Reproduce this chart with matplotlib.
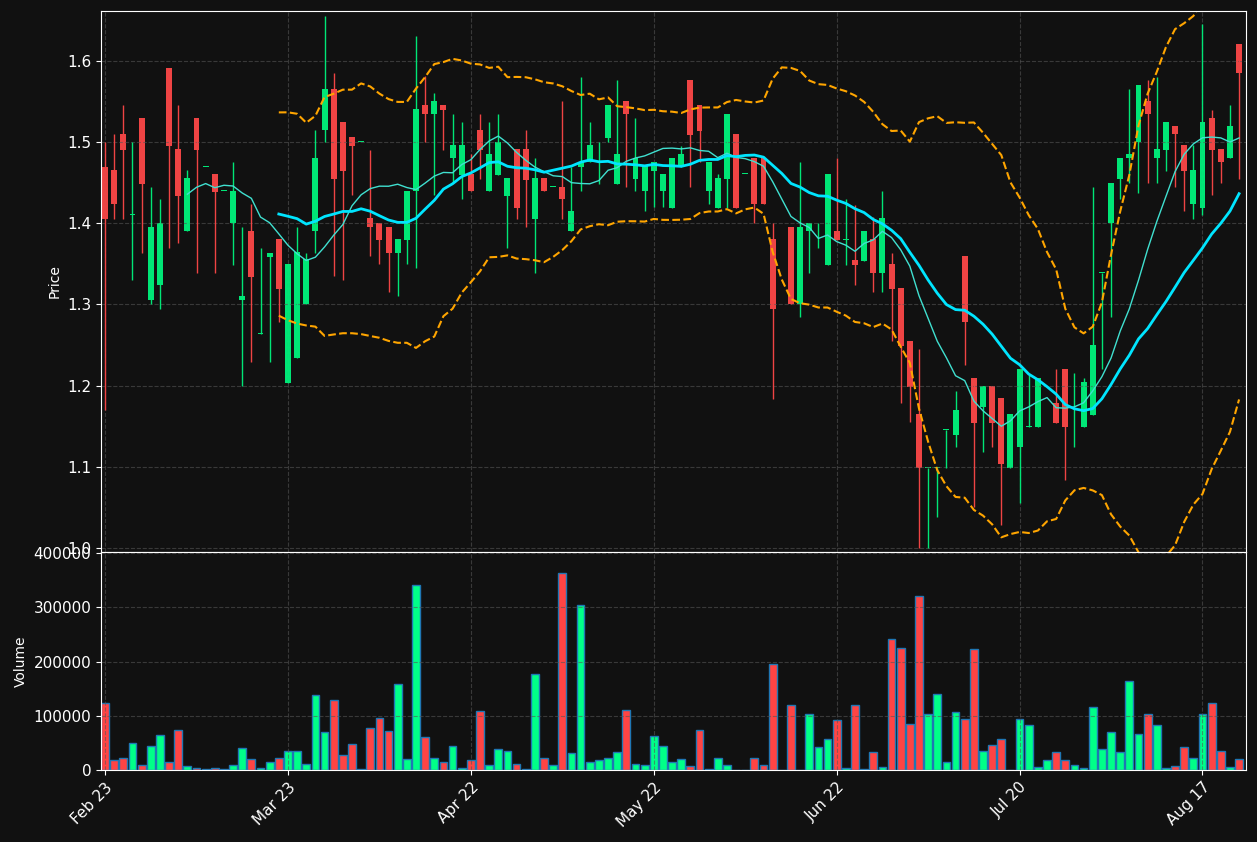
import numpy as np
import pandas as pd
import matplotlib
matplotlib.use("Agg")
import matplotlib.pyplot as plt

# OHLC (index 74 is an empty day)
opens = [1.470, 1.466, 1.510, 1.410, 1.530, 1.305, 1.324, 1.591, 1.491, 1.390,
         1.530, 1.470, 1.461, 1.440, 1.400, 1.305, 1.391, 1.264, 1.359, 1.381,
         1.203, 1.234, 1.300, 1.390, 1.515, 1.566, 1.525, 1.506, 1.500, 1.406,
         1.400, 1.396, 1.364, 1.380, 1.440, 1.546, 1.535, 1.546, 1.480, 1.460,
         1.461, 1.515, 1.440, 1.460, 1.434, 1.491, 1.491, 1.405, 1.456, 1.445,
         1.445, 1.390, 1.470, 1.475, 1.496, 1.505, 1.449, 1.551, 1.455, 1.440,
         1.465, 1.440, 1.419, 1.470, 1.576, 1.546, 1.440, 1.419, 1.455, 1.510,
         1.461, 1.481, 1.481, 1.381, np.nan, 1.396, 1.300, 1.390, 1.400, 1.349,
         1.391, 1.380, 1.355, 1.354, 1.381, 1.339, 1.350, 1.320, 1.255, 1.165,
         1.099, 1.099, 1.145, 1.139, 1.360, 1.210, 1.174, 1.199, 1.185, 1.098,
         1.125, 1.149, 1.149, 1.220, 1.179, 1.220, 1.215, 1.149, 1.164, 1.339,
         1.400, 1.455, 1.480, 1.500, 1.551, 1.480, 1.490, 1.520, 1.496, 1.424,
         1.419, 1.530, 1.491, 1.480, 1.621]
highs = [1.500, 1.510, 1.546, 1.500, 1.530, 1.445, 1.430, 1.591, 1.546, 1.466,
         1.530, 1.470, 1.461, 1.440, 1.476, 1.395, 1.424, 1.369, 1.364, 1.381,
         1.350, 1.395, 1.364, 1.515, 1.656, 1.585, 1.525, 1.506, 1.500, 1.490,
         1.400, 1.396, 1.381, 1.440, 1.631, 1.581, 1.561, 1.546, 1.535, 1.525,
         1.485, 1.535, 1.525, 1.535, 1.456, 1.491, 1.515, 1.480, 1.456, 1.445,
         1.551, 1.470, 1.580, 1.525, 1.500, 1.546, 1.576, 1.551, 1.530, 1.471,
         1.476, 1.461, 1.480, 1.495, 1.576, 1.546, 1.476, 1.461, 1.535, 1.510,
         1.461, 1.481, 1.481, 1.400, np.nan, 1.396, 1.476, 1.400, 1.400, 1.461,
         1.480, 1.430, 1.422, 1.391, 1.408, 1.440, 1.364, 1.320, 1.255, 1.245,
         1.099, 1.099, 1.145, 1.194, 1.360, 1.210, 1.199, 1.199, 1.185, 1.165,
         1.220, 1.213, 1.210, 1.220, 1.220, 1.220, 1.215, 1.210, 1.445, 1.339,
         1.450, 1.481, 1.565, 1.571, 1.576, 1.580, 1.525, 1.520, 1.496, 1.496,
         1.646, 1.540, 1.491, 1.546, 1.621]
lows = [1.170, 1.405, 1.405, 1.330, 1.364, 1.300, 1.295, 1.369, 1.376, 1.390,
        1.339, 1.470, 1.339, 1.440, 1.349, 1.199, 1.229, 1.264, 1.229, 1.279,
        1.203, 1.234, 1.300, 1.364, 1.500, 1.335, 1.330, 1.435, 1.500, 1.360,
        1.350, 1.315, 1.310, 1.350, 1.345, 1.500, 1.435, 1.490, 1.451, 1.430,
        1.440, 1.455, 1.440, 1.460, 1.369, 1.405, 1.395, 1.339, 1.440, 1.445,
        1.405, 1.390, 1.440, 1.475, 1.449, 1.500, 1.449, 1.445, 1.440, 1.415,
        1.420, 1.420, 1.419, 1.470, 1.445, 1.476, 1.424, 1.419, 1.419, 1.419,
        1.461, 1.400, 1.424, 1.184, np.nan, 1.300, 1.284, 1.339, 1.369, 1.349,
        1.380, 1.349, 1.324, 1.354, 1.315, 1.315, 1.255, 1.179, 1.155, 1.000,
        1.000, 1.038, 1.099, 1.125, 1.225, 1.051, 1.118, 1.125, 1.028, 1.098,
        1.055, 1.149, 1.149, 1.220, 1.154, 1.084, 1.125, 1.149, 1.164, 1.220,
        1.284, 1.430, 1.450, 1.437, 1.450, 1.450, 1.465, 1.445, 1.415, 1.405,
        1.410, 1.435, 1.450, 1.480, 1.455]
closes = [1.405, 1.424, 1.490, 1.410, 1.449, 1.396, 1.400, 1.495, 1.434, 1.456,
          1.490, 1.470, 1.439, 1.440, 1.440, 1.310, 1.334, 1.264, 1.364, 1.319,
          1.350, 1.365, 1.356, 1.481, 1.566, 1.455, 1.465, 1.495, 1.500, 1.395,
          1.380, 1.364, 1.381, 1.440, 1.541, 1.535, 1.551, 1.540, 1.496, 1.496,
          1.440, 1.490, 1.486, 1.500, 1.456, 1.419, 1.454, 1.456, 1.440, 1.445,
          1.430, 1.415, 1.476, 1.496, 1.496, 1.546, 1.486, 1.535, 1.480, 1.471,
          1.476, 1.461, 1.480, 1.486, 1.509, 1.514, 1.476, 1.456, 1.535, 1.419,
          1.461, 1.424, 1.424, 1.295, np.nan, 1.300, 1.396, 1.400, 1.400, 1.461,
          1.380, 1.380, 1.349, 1.391, 1.339, 1.406, 1.319, 1.249, 1.198, 1.098,
          1.099, 1.099, 1.145, 1.170, 1.279, 1.154, 1.199, 1.154, 1.103, 1.165,
          1.220, 1.149, 1.210, 1.220, 1.154, 1.149, 1.215, 1.204, 1.250, 1.339,
          1.450, 1.481, 1.485, 1.571, 1.535, 1.491, 1.525, 1.510, 1.465, 1.466,
          1.525, 1.490, 1.475, 1.520, 1.585]
volumes = [123000, 18000, 23000, 49000, 10000, 44000, 64000, 14000, 73000, 7000,
           4000, 1000, 4000, 1000, 10000, 40000, 20000, 3000, 14000, 22000,
           35000, 35000, 12000, 138000, 70000, 129000, 27000, 48000, 1000, 77000,
           96000, 72000, 159000, 20000, 342000, 60000, 22000, 14000, 44000, 3000,
           18000, 109000, 10000, 38000, 35000, 12000, 1000, 177000, 22000, 10000,
           364000, 31000, 305000, 14000, 18000, 23000, 33000, 110000, 12000, 9000,
           62000, 44000, 14000, 20000, 7000, 73000, 1000, 23000, 9000, 0,
           0, 22000, 9000, 196000, 0, 120000, 0, 103000, 42000, 57000,
           92000, 3000, 120000, 1000, 33000, 5000, 242000, 225000, 85000, 320000,
           103000, 140000, 14000, 107000, 94000, 223000, 35000, 46000, 57000, 0,
           94000, 83000, 5000, 18000, 33000, 18000, 9000, 3000, 116000, 38000,
           70000, 33000, 164000, 66000, 103000, 83000, 3000, 7000, 42000, 22000,
           103000, 123000, 35000, 5000, 20000]
tick_idx = [0, 20, 40, 60, 80, 100, 120]
tick_labels = ["Feb 23", "Mar 23", "Apr 22", "May 22", "Jun 22", "Jul 20", "Aug 17"]

df = pd.DataFrame({"open": opens, "high": highs, "low": lows, "close": closes, "volume": volumes})
c = df["close"].ffill()
ma10 = c.rolling(10).mean()
ma20 = c.rolling(20).mean()
sd20 = c.rolling(20).std(ddof=0)
upper = ma20 + 2 * sd20
lower = ma20 - 2 * sd20

BG = "#111111"
UP = "#00e676"
DOWN = "#ef4444"

fig = plt.figure(figsize=(12.57, 8.42), dpi=100, facecolor=BG)
ax = fig.add_axes([0.0803, 0.3444, 0.9109, 0.6425], facecolor=BG)
axv = fig.add_axes([0.0803, 0.0855, 0.9109, 0.2589], facecolor=BG, sharex=ax)

x = np.arange(len(df))
for i, r in df.iterrows():
    if np.isnan(r["open"]):
        continue
    col = UP if r["close"] >= r["open"] else DOWN
    ax.vlines(i, r["low"], r["high"], color=col, linewidth=1)
    lo = min(r["open"], r["close"])
    h = abs(r["close"] - r["open"])
    ax.bar(i, max(h, 0.001), bottom=lo, width=0.65, color=col, linewidth=0)

ax.plot(x, ma10, color="#40e0d0", linewidth=1)
ax.plot(x, ma20, color="#00e5ff", linewidth=2)
ax.plot(x, upper, color="orange", linestyle="--", linewidth=1.5)
ax.plot(x, lower, color="orange", linestyle="--", linewidth=1.5)

vcols = ["#00ff88" if cl >= op else "#ff4444" for op, cl in zip(df["open"].fillna(0), df["close"].fillna(0))]
axv.bar(x, df["volume"], width=0.85, color=vcols, edgecolor="#1f77b4", linewidth=1)

ax.set_ylim(0.995, 1.6616)
axv.set_ylim(0, 402000)
ax.set_xlim(-0.45, 124.75)
ax.set_ylabel("Price", color="white")
axv.set_ylabel("Volume", color="white")
axv.set_xticks(tick_idx)
axv.set_xticklabels(tick_labels, rotation=45, ha="right", rotation_mode="anchor")
plt.setp(ax.get_xticklabels(), visible=False)
axv.ticklabel_format(axis="y", style="plain")

for a in (ax, axv):
    a.grid(True, color="#555555", linestyle="--", linewidth=0.8, alpha=0.6)
    a.tick_params(colors="white", labelsize=11)
    for s in a.spines.values():
        s.set_color("white")

fig.savefig("out.png", dpi=100, facecolor=BG)
